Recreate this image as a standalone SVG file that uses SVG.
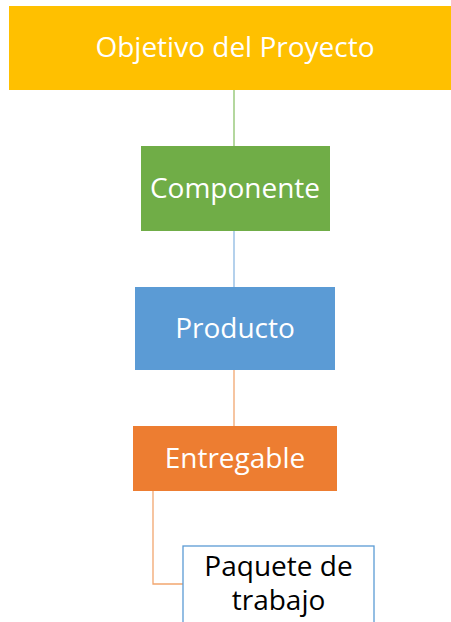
<svg xmlns="http://www.w3.org/2000/svg" width="451" height="622" viewBox="0 0 451 622">
<style>
.t{font-family:"Open Sans","Liberation Sans",sans-serif;font-size:28px;text-anchor:middle;fill:#fff}
.k{fill:#000}
.c{fill:none;stroke-width:1.3}
</style>
<rect width="451" height="622" fill="#fff"/>
<g id="connectors">
<line class="c" x1="234" y1="90" x2="234" y2="146" stroke="#8CC26A"/>
<line class="c" x1="234" y1="231" x2="234" y2="287" stroke="#8DB8E2"/>
<line class="c" x1="234" y1="370" x2="234" y2="426" stroke="#F2A66F"/>
<polyline class="c" points="153,491 153,584 183,584" stroke="#F2A66F"/>
</g>
<g id="objetivo">
<rect x="9" y="6" width="452" height="84" fill="#FFC000"/>
<text class="t" x="235" y="57" font-size="30">Objetivo del Proyecto</text>
</g>
<g id="componente">
<rect x="141" y="146" width="189" height="85" fill="#70AD47"/>
<text class="t" x="235" y="198">Componente</text>
</g>
<g id="producto">
<rect x="135" y="287" width="200" height="83" fill="#5B9BD5"/>
<text class="t" x="235" y="338">Producto</text>
</g>
<g id="entregable">
<rect x="133" y="426" width="204" height="65" fill="#ED7D31"/>
<text class="t" x="235" y="468">Entregable</text>
</g>
<g id="paquete">
<rect x="183" y="546" width="191" height="90" fill="#fff" stroke="#5B9BD5" stroke-width="1.3"/>
<text class="t k" x="278.5" y="576">Paquete de</text>
<text class="t k" x="278.5" y="610">trabajo</text>
</g>
</svg>
